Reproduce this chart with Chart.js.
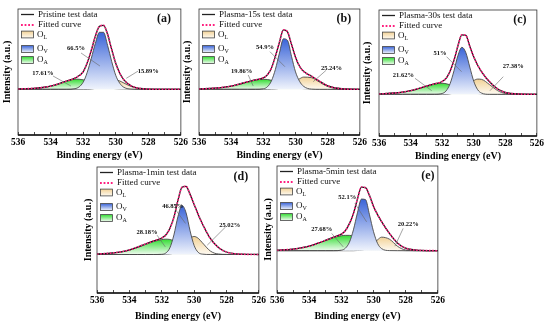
<!DOCTYPE html>
<html>
<head>
<meta charset="utf-8">
<script src="https://cdn.jsdelivr.net/npm/chart.js@4.4.0/dist/chart.umd.min.js"></script>
<style>
html, body { margin: 0; padding: 0; background: #fff; }
#fig { position: relative; width: 550px; height: 328px; overflow: hidden; }
#fig canvas { position: absolute; }
</style>
</head>
<body>
<div id="fig">
  <canvas id="pa"></canvas>
  <canvas id="pb"></canvas>
  <canvas id="pc"></canvas>
  <canvas id="pd"></canvas>
  <canvas id="pe"></canvas>
</div>
<script>
// binding energy grid (eV), same for every panel
var energy = [536, 535, 534.5, 534, 533.5, 533, 532.5, 532, 531.75, 531.5, 531.25, 531, 530.75, 530.5, 530.25, 530, 529.75, 529.5, 529, 528.5, 528, 527, 526];
var xTicks = [536, 534, 532, 530, 528, 526];
var sampleNames = ['Pristine', 'Plasma-15s', 'Plasma-30s', 'Plasma-1min', 'Plasma-5min'];

// (a) pristine
var envA = [0.3, 1.0, 1.8, 3.2, 5.5, 8.3, 11.2, 17.5, 26.5, 39, 53, 63, 64, 55, 40, 26, 16, 9.5, 3, 0.8, 0.2, 0, 0];
var ovA  = [0, 0, 0, 0, 0, 0, 0.6, 7, 17, 31, 46, 57, 57, 44, 28, 14, 6, 2, 0.2, 0, 0, 0, 0];
var olA  = [0, 0, 0, 0, 0, 0, 0, 0, 0, 0.3, 0.9, 2, 3.8, 6.2, 8.5, 9.2, 8.3, 6.3, 2.5, 0.7, 0.1, 0, 0];
var oaA  = [0.3, 1.0, 1.8, 3.2, 5.5, 8.2, 10.2, 9.5, 8.3, 6.8, 5.2, 3.8, 2.6, 1.7, 1.0, 0.6, 0.3, 0.2, 0.1, 0, 0, 0, 0];
var pctA = ['66.5%', '15.89%', '17.61%'];

// (b) plasma 15 s
var envB = [0.3, 1.2, 2.0, 3.2, 5.2, 7.4, 9.4, 11.5, 14.5, 21, 33, 47, 59.5, 57.5, 45, 32, 23, 18, 13, 8, 3.5, 0.3, 0];
var ovB  = [0, 0, 0, 0, 0, 0, 0, 0.5, 2.5, 8.3, 20, 36.3, 50.5, 49, 33, 17.4, 8, 3, 0.2, 0, 0, 0, 0];
var olB  = [0, 0, 0, 0, 0, 0, 0, 0, 0, 0.2, 0.4, 1.0, 2.4, 3.8, 5.8, 8.2, 10.5, 12.2, 11.6, 7.1, 2.8, 0.1, 0];
var oaB  = [0.3, 1.2, 2.0, 3.2, 5.2, 7.4, 9.2, 10, 9.8, 9.0, 7.6, 6.4, 5.2, 4.0, 2.8, 1.8, 1.1, 0.6, 0.2, 0.1, 0, 0, 0];
var pctB = ['54.9%', '25.24%', '19.86%'];

// (c) plasma 30 s
var envC = [0.3, 1.3, 2.2, 3.6, 5.8, 8.2, 10.4, 12.8, 16, 23, 34, 48.5, 59.5, 59, 48, 37.5, 29, 22.5, 12.5, 5.5, 1.8, 0.2, 0];
var ovC  = [0, 0, 0, 0, 0, 0, 0, 0.8, 3.4, 10.5, 23.6, 38.8, 47, 41.7, 27.3, 13.1, 4.6, 1.2, 0, 0, 0, 0, 0];
var olC  = [0, 0, 0, 0, 0, 0, 0, 0, 0, 0.5, 1.2, 2.5, 4.6, 7.6, 10.9, 13.7, 15.2, 14.9, 9.7, 3.8, 0.9, 0.1, 0];
var oaC  = [0.3, 1.3, 2.2, 3.6, 5.8, 8.2, 10.2, 11, 10.6, 9.5, 8.0, 6.3, 4.7, 3.3, 2.2, 1.4, 0.8, 0.5, 0.2, 0.1, 0, 0, 0];
var pctC = ['51%', '27.38%', '21.62%'];

// (d) plasma 1 min
var envD = [0.4, 1.6, 2.7, 4.5, 7.4, 10.5, 13.5, 16.5, 19.5, 26, 37, 54, 67, 68, 60, 50, 40, 31, 16, 7, 2.5, 0.3, 0];
var ovD  = [0, 0, 0, 0, 0, 0, 0, 0.2, 1.5, 6.6, 19.5, 37.9, 49, 41.8, 23.6, 9, 2.2, 0.4, 0, 0, 0, 0, 0];
var olD  = [0, 0, 0, 0, 0, 0, 0, 0, 0, 0.4, 1.4, 3.5, 7.1, 11.9, 16.2, 18, 16.2, 11.9, 3.5, 0.4, 0, 0, 0];
var oaD  = [0.4, 1.5, 2.6, 4.3, 7.0, 10.0, 12.9, 14.9, 15.3, 15.0, 13.6, 11.7, 9.5, 7.3, 5.3, 3.6, 2.4, 1.5, 0.5, 0.2, 0.1, 0, 0];
var pctD = ['46.85%', '25.02%', '28.18%'];

// (e) plasma 5 min
var envE = [0.4, 1.6, 2.8, 4.5, 7.2, 10.2, 13.3, 16.5, 20, 27, 37, 51.5, 63.5, 63, 55, 44, 36, 29, 17, 7.5, 2.5, 0.3, 0];
var ovE  = [0, 0, 0, 0, 0, 0, 0, 0.5, 2.5, 8.4, 20.8, 37.8, 51.5, 51, 35.8, 19, 7.3, 2.1, 0.1, 0, 0, 0, 0];
var olE  = [0, 0, 0, 0, 0, 0, 0, 0, 0, 0, 0, 0.2, 0.5, 1.6, 3.7, 7, 10.8, 13.5, 11.4, 4.3, 0.7, 0, 0];
var oaE  = [0.4, 1.6, 2.8, 4.5, 7.2, 10.2, 13.1, 14.9, 15.3, 15.3, 14.4, 12.8, 10.8, 8.6, 6.5, 4.7, 3.2, 2.1, 0.8, 0.3, 0.1, 0, 0];
var pctE = ['52.1%', '20.22%', '27.68%'];

var pink = '#ff1f7f';
var colV = ['#3a64d8', '#f0f4fc'];
var colL = ['#f2d296', '#fefaf2'];
var colA = ['#33dd33', '#f0fbf0'];

Chart.defaults.font.family = '"Liberation Serif", "Times New Roman", serif';

function pts(arr) {
    return energy.map(function (e, i) { return {x: e, y: arr[i]}; });
}

function grad(arr, cols) {
    return function (context) {
        var chart = context.chart;
        if (!chart.chartArea) return cols[0];
        var peak = Math.max.apply(null, arr);
        var y0 = chart.scales.y.getPixelForValue(peak);
        var y1 = chart.scales.y.getPixelForValue(0);
        var g = chart.ctx.createLinearGradient(0, y0, 0, y1);
        g.addColorStop(0, cols[0]);
        g.addColorStop(1, cols[1]);
        return g;
    };
}

function seg(ctx, x1, y1, x2, y2) {
    ctx.beginPath();
    ctx.moveTo(x1, y1);
    ctx.lineTo(x2, y2);
    ctx.stroke();
}

// frame, legend, panel letter and percentage labels
var decor = {
    id: 'decor',
    afterDraw: function (chart) {
        var p = chart.config.options.panel;
        var ctx = chart.ctx, a = chart.chartArea;
        var sx = chart.scales.x, sy = chart.scales.y;
        ctx.save();

        ctx.strokeStyle = '#333';
        ctx.lineWidth = 0.8;
        ctx.strokeRect(a.left, a.top, a.right - a.left, a.bottom - a.top);
        ctx.strokeStyle = '#111';
        ctx.lineWidth = 1.6;
        seg(ctx, a.left, a.bottom, a.right, a.bottom);

        // percentage labels with leader lines
        ctx.strokeStyle = '#666';
        ctx.lineWidth = 0.6;
        ctx.fillStyle = '#111';
        ctx.font = 'bold 6.5px "Liberation Serif"';
        ctx.textAlign = 'center';
        ctx.textBaseline = 'middle';
        p.notes.forEach(function (n, i) {
            seg(ctx, sx.getPixelForValue(n[2]), sy.getPixelForValue(n[3]),
                sx.getPixelForValue(n[4]), sy.getPixelForValue(n[5]));
            ctx.fillText(p.pct[i], sx.getPixelForValue(n[0]), sy.getPixelForValue(n[1]));
        });

        // panel letter
        ctx.font = 'bold 12px "Liberation Serif"';
        ctx.fillText(p.letter, a.right - p.lx, a.top + 10);

        // legend
        var x = a.left, y = a.top;
        ctx.textAlign = 'left';
        ctx.font = '9px "Liberation Serif"';
        ctx.strokeStyle = '#222';
        ctx.lineWidth = 1.3;
        seg(ctx, x + 3, y + 5.5, x + 16, y + 5.5);
        ctx.fillText(p.name + ' test data', x + 20, y + 5.5);
        ctx.strokeStyle = pink;
        ctx.lineWidth = 1.8;
        ctx.setLineDash([1.8, 1.8]);
        seg(ctx, x + 3, y + 16, x + 16, y + 16);
        ctx.setLineDash([]);
        ctx.fillText('Fitted curve', x + 20, y + 16);

        [['L', colL, 25.5], ['V', colV, 40], ['A', colA, 51]].forEach(function (b) {
            var cy = y + b[2];
            var g = ctx.createLinearGradient(0, cy - 3.4, 0, cy + 3.4);
            g.addColorStop(0, b[1][0]);
            g.addColorStop(1, b[1][1]);
            ctx.fillStyle = g;
            ctx.fillRect(x + 3.5, cy - 3.4, 12, 6.8);
            ctx.strokeStyle = '#444';
            ctx.lineWidth = 0.8;
            ctx.strokeRect(x + 3.5, cy - 3.4, 12, 6.8);
            ctx.fillStyle = '#111';
            ctx.font = '9px "Liberation Serif"';
            ctx.fillText('O', x + 19, cy);
            var ow = ctx.measureText('O').width;
            ctx.font = '6px "Liberation Serif"';
            ctx.fillText(b[0], x + 19 + ow, cy + 2.5);
        });
        ctx.restore();
    }
};

function makePanel(p) {
    var cv = document.getElementById(p.id);
    var w = Math.round(2 + p.yW + (p.box.r - p.box.l) + 12);
    var h = Math.round(4 + (p.box.b - p.box.t) + p.xH + 2);
    cv.width = w;
    cv.height = h;
    cv.style.width = w + 'px';
    cv.style.height = h + 'px';

    var line = function (arr, color, width, dash) {
        return {data: pts(arr), borderColor: color, borderWidth: width, borderDash: dash || [],
                pointRadius: 0, fill: false, cubicInterpolationMode: 'monotone'};
    };
    var peak = function (arr, cols) {
        return {data: pts(arr), borderColor: '#4a4a4a', borderWidth: 0.9, pointRadius: 0,
                fill: 'origin', backgroundColor: grad(arr, cols), cubicInterpolationMode: 'monotone'};
    };

    var chart = new Chart(cv, {
        type: 'line',
        data: {
            datasets: [
                line(p.env, pink, 1.6, [1.6, 1.6]),
                line(p.env, '#1a1a1a', 1.3),
                peak(p.ov, colV),
                peak(p.ol, colL),
                peak(p.oa, colA)
            ]
        },
        options: {
            panel: p,
            responsive: false,
            animation: false,
            devicePixelRatio: 1,
            layout: {padding: {left: 2, right: 12, top: 4, bottom: 2}},
            plugins: {legend: {display: false}, tooltip: {enabled: false}},
            scales: {
                x: {
                    type: 'linear', reverse: true, min: 526, max: 536,
                    afterFit: function (s) { s.height = p.xH; },
                    ticks: {
                        stepSize: 1, autoSkip: false, maxRotation: 0, padding: 5, color: '#000',
                        font: {size: 9.5, weight: 'bold'},
                        callback: function (v) { return xTicks.indexOf(v) >= 0 ? v : ''; }
                    },
                    grid: {drawOnChartArea: false, tickLength: -3, color: '#222', lineWidth: 0.8},
                    border: {display: false},
                    title: {display: true, text: 'Binding energy (eV)', color: '#000', padding: 0,
                            font: {size: 10, weight: 'bold', lineHeight: 1}}
                },
                y: {
                    min: p.ymin, max: p.ymax,
                    afterFit: function (s) { s.width = p.yW; },
                    ticks: {display: false},
                    grid: {display: false},
                    border: {display: false},
                    title: {display: true, text: 'Intensity (a.u.)', color: '#000', padding: 0,
                            font: {size: 10, weight: 'bold', lineHeight: 1}}
                }
            }
        },
        plugins: [decor]
    });

    var a = chart.chartArea;
    cv.style.left = (p.box.l - a.left) + 'px';
    cv.style.top = (p.box.t - a.top) + 'px';
    return chart;
}

// label notes: [text E, text I, line from E, I, line to E, I] for O_V, O_L, O_A
makePanel({id: 'pa', letter: '(a)', name: sampleNames[0], env: envA, ov: ovA, ol: olA, oa: oaA, pct: pctA,
    box: {l: 18, r: 181, t: 9, b: 135}, yW: 16, xH: 25, ymin: -45.7, ymax: 80.3, lx: 17,
    notes: [[532.44, 41.3, 532.13, 36.3, 530.97, 23.3], [528.0, 18.3, 528.62, 18.3, 529.35, 11], [534.47, 16.3, 533.85, 13.3, 532.75, 3.3]]});
makePanel({id: 'pb', letter: '(b)', name: sampleNames[1], env: envB, ov: ovB, ol: olB, oa: oaB, pct: pctB,
    box: {l: 199, r: 360, t: 9, b: 135}, yW: 17, xH: 25, ymin: -45.7, ymax: 80.3, lx: 16,
    notes: [[531.9, 41.6, 531.59, 37.6, 530.66, 22.6], [527.76, 21, 528.1, 19, 528.9, 7.6], [533.35, 17.6, 532.94, 14.3, 532.63, 3.3]]});
makePanel({id: 'pc', letter: '(c)', name: sampleNames[2], env: envC, ov: ovC, ol: olC, oa: oaC, pct: pctC,
    box: {l: 379, r: 537, t: 10, b: 136}, yW: 17, xH: 25, ymin: -41.7, ymax: 84.3, lx: 17,
    notes: [[532.14, 41, 531.72, 37.6, 530.77, 22.6], [527.5, 27.6, 528.13, 17.6, 528.97, 3.6], [534.46, 19.3, 533.72, 16, 532.66, 3.6]]});
makePanel({id: 'pd', letter: '(d)', name: sampleNames[3], env: envD, ov: ovD, ol: olD, oa: oaD, pct: pctD,
    box: {l: 96.5, r: 258, t: 167, b: 292.7}, yW: 14, xH: 28, ymin: -38.4, ymax: 87.3, lx: 18,
    notes: [[531.32, 48.3, 531.16, 45, 530.53, 31], [527.8, 29.3, 528.05, 27.6, 529.19, 9.3], [532.91, 22.6, 532.29, 19.3, 531.78, 7.6]]});
makePanel({id: 'pe', letter: '(e)', name: sampleNames[4], env: envE, ov: ovE, ol: olE, oa: oaE, pct: pctE,
    box: {l: 277, r: 438, t: 166, b: 292.7}, yW: 14, xH: 28, ymin: -42.2, ymax: 84.5, lx: 10,
    notes: [[531.63, 52.8, 531.16, 47.2, 530.43, 28.8], [527.84, 26.2, 528.16, 22.2, 528.67, 4.5], [533.22, 21.2, 532.6, 17.2, 531.88, 3.8]]});
</script>
</body>
</html>
